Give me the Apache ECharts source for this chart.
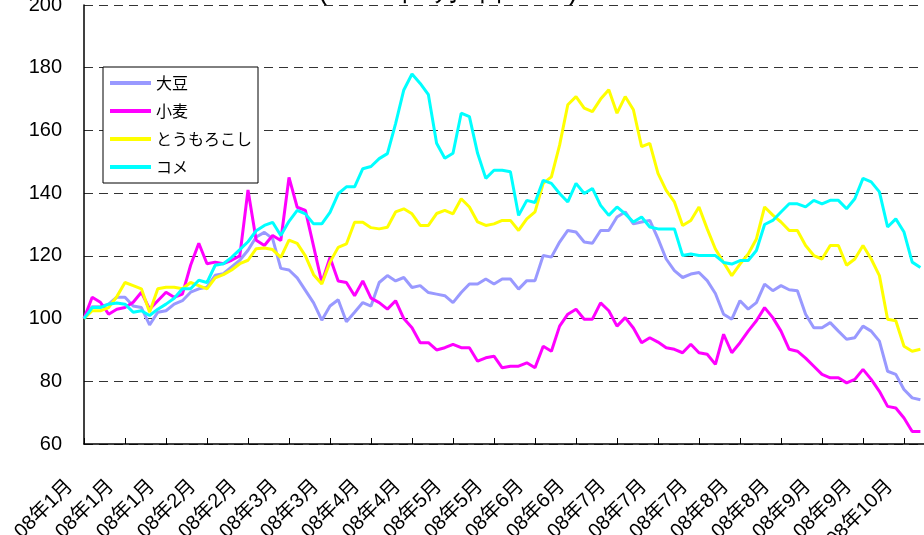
<!DOCTYPE html>
<html>
<head>
<meta charset="utf-8">
<script src="https://cdn.jsdelivr.net/npm/echarts@6/dist/echarts.min.js"></script>
<style>
html,body{margin:0;padding:0;background:#fff;}
#chart{width:924px;height:535px;}
</style>
</head>
<body>
<div id="chart"></div>
<script>
// Tick labels (one every 5 data points; each point ≈ 2 business days)
const tickLabels = ['08年1月','08年1月','08年1月','08年2月','08年2月','08年3月','08年3月','08年4月','08年4月','08年5月','08年5月','08年6月','08年6月','08年7月','08年7月','08年7月','08年8月','08年8月','08年9月','08年9月','08年10月'];
const seriesNames = ['大豆','小麦','とうもろこし','コメ'];

const soybean = [100,103.8,103.8,104.6,106.8,106.8,104,103.5,98,102,102.5,104.6,105.7,108.4,109.5,110,113.8,114.3,116.5,118.6,121.8,
126,127.5,125.5,116,115.5,113,109,105,99.5,104,106,99,102,105.1,104,111.5,113.7,112,113.1,109.9,110.5,
108.3,107.8,107.3,105.1,108.3,111,111,112.6,111,112.6,112.6,109.4,112.1,112.1,120.1,119.6,124.4,128.1,127.6,124.4,124,
128.1,128.1,132.4,134,130.2,130.8,131.3,125.5,119,115.3,113.1,114.2,114.7,112.1,108,101.4,99.8,105.7,103,105.1,111,
108.9,110.5,109.2,108.9,101.4,97.1,97.1,98.7,96,93.4,93.9,97.6,96,92.8,83.2,82.2,77.4,74.7,74.1];

const wheat = [100,106.8,105.2,101.4,103,103.5,105.2,108.4,103,105.7,108.4,106.8,107.8,117,124,117.5,118,117.5,118.6,120,141,
125,123.3,126.5,124.9,145,135.5,134.5,123,111.5,119.5,112,111.5,107.3,112,106.5,105.1,103,105.7,100,97.1,92.3,
92.3,90,90.7,91.8,90.7,90.7,86.4,87.5,88,84.3,84.8,84.8,85.9,84.3,91.2,89.6,97.6,101.4,103,99.8,99.8,
105,102.5,97.6,100.3,97,92.3,93.9,92.5,90.7,90.2,89.1,91.8,89.1,88.6,85.4,95,89.1,92.3,96,99.3,103.5,
100.3,96,90.2,89.6,87.4,84.8,82.2,81.1,81.1,79.5,80.6,83.8,80.6,76.8,72,71.5,68.3,64,64];

const corn = [100,102.5,102.5,103.5,107,111.5,110.5,109.5,102,109.5,110,110,109.5,111.5,110.5,109.5,113,114,115.5,117.5,118.6,
122.3,122.5,122,119.5,125,124,120,114,111,118,122.7,123.8,130.7,130.7,129,128.6,129.1,134,135,133.4,129.7,
129.7,133.5,134.5,133.4,138.2,135.6,130.8,129.7,130.2,131.3,131.3,128.1,131.8,134,143.1,145.2,155.3,168.2,170.8,167.1,166,
170,173,165.5,170.8,166.6,154.8,155.9,146.3,140.9,137.2,129.7,131.3,135.6,128.6,122.2,117.9,113.7,117.4,120.6,125.4,135.6,
133,130.8,128.1,128.1,123.3,120.1,119,123.3,123.3,117,119,123.3,119,113.7,99.8,99.3,91.2,89.6,90.2];

const rice = [100,103.5,103.5,104.6,105,104.6,102,102.5,101,103,104.6,106.5,109.5,109.5,112.2,111.5,117,117.5,119.5,122,124.5,
128,129.7,130.7,126.5,131,134.5,133.4,130.2,130.2,133.9,139.8,142,142,147.8,148.5,151,152.6,162.2,172.9,178,175,
171.4,155.9,151.1,152.7,165.5,164.4,152.7,144.7,147.3,147.3,146.8,132.9,137.7,137,144.1,143.1,139.9,137.2,143.1,139.9,141.5,
136.1,132.9,135.6,133.4,130.8,132.4,129.2,128.6,128.6,128.6,120.1,120.6,120.1,120.1,120.1,117.9,117.4,118.5,118.5,121.7,130,
131.3,134,136.6,136.6,135.6,137.7,136.6,137.7,137.7,135,138.2,144.7,143.6,140.4,129.2,131.8,127.6,118,116.3];

const colors = ['#9999FF','#FF00FF','#FFFF00','#00FFFF'];
const labelStep = 5;

// categories: one per data point plus one trailing slot so the axis runs to the edge
const categories = [];
for (let i = 0; i <= soybean.length; i++) {
  categories.push(i % labelStep === 0 ? (tickLabels[i / labelStep] || '') : '');
}

const FONT = '"Liberation Sans", Arial, "Noto Sans CJK JP", sans-serif';
const chart = echarts.init(document.getElementById('chart'), null, {renderer: 'canvas'});
const dataSets = [soybean, wheat, corn, rice];

chart.setOption({
  animation: false,
  backgroundColor: '#fff',
  color: colors,
  graphic: [{
    type: 'text',
    x: 448, y: 6,
    style: {
      text: '(2008年1月1日=100)',
      font: '28px ' + FONT,
      fontSize: 28,
      fill: '#000',
      textAlign: 'center', textVerticalAlign: 'bottom',
      align: 'center', verticalAlign: 'bottom'
    }
  }],
  grid: {left: 84, top: 5, right: -4.6, bottom: 91, containLabel: false, outerBoundsMode: 'none'},
  legend: {
    orient: 'vertical',
    left: 103, top: 67,
    padding: [8, 6, 8, 7],
    backgroundColor: '#fff',
    borderColor: '#000',
    borderWidth: 1,
    borderRadius: 0,
    icon: 'rect',
    itemWidth: 41, itemHeight: 4,
    itemGap: 12,
    itemTextGap: 5,
    textStyle: {fontSize: 16, color: '#000', fontFamily: '"Noto Sans CJK JP", sans-serif'},
    data: seriesNames
  },
  xAxis: {
    type: 'category',
    boundaryGap: false,
    data: categories,
    axisLine: {lineStyle: {color: '#000', width: 1.5}},
    axisTick: {show: true, inside: true, length: 6, interval: labelStep - 1, lineStyle: {color: '#000', width: 1}},
    axisLabel: {
      interval: labelStep - 1,
      rotate: 45,
      margin: 25,
      padding: [0, 20, 0, 0],
      fontSize: 20,
      color: '#000',
      fontFamily: FONT
    },
    splitLine: {show: false}
  },
  yAxis: {
    type: 'value',
    min: 60, max: 200, interval: 20,
    axisLine: {show: true, lineStyle: {color: '#000', width: 1.5}},
    axisTick: {show: false},
    axisLabel: {fontSize: 20, color: '#000', margin: 22, fontFamily: FONT},
    splitLine: {show: true, lineStyle: {color: '#333', width: 1.2, type: [9, 6]}}
  },
  series: seriesNames.map((name, k) => ({
    name: name,
    type: 'line',
    data: dataSets[k],
    showSymbol: false,
    symbol: 'none',
    smooth: false,
    lineStyle: {width: 3, color: colors[k]},
    itemStyle: {color: colors[k]},
    z: 2 + k
  }))
});
</script>
</body>
</html>
